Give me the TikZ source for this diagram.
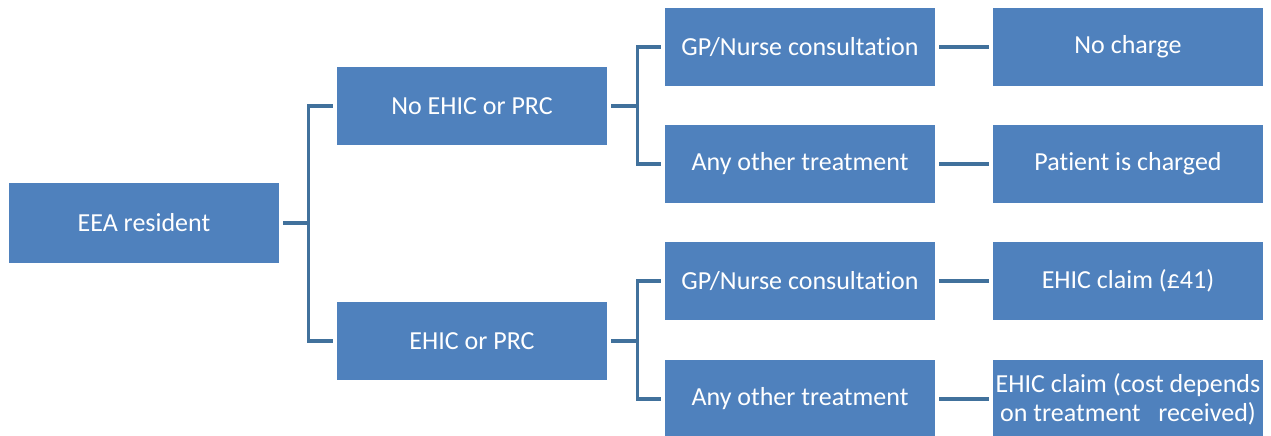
\documentclass[tikz,border=0pt]{standalone}
\usepackage{fontspec}
\setmainfont[Ligatures=NoCommon]{Carlito}
\definecolor{boxblue}{HTML}{4F81BD}
\definecolor{linkblue}{HTML}{41719C}
\begin{document}
\begin{tikzpicture}[x=1pt,y=-1pt,
  box/.style={rectangle, fill=boxblue, text=white, minimum width=270pt, minimum height=78pt, inner sep=0pt, align=center, font=\fontsize{26}{29}\selectfont},
  link/.style={draw=linkblue, line width=3.3pt, shorten <=4pt, shorten >=4pt}]
\useasboundingbox (0,0) rectangle (1271,436);
\node[box, minimum height=80pt] (eea) at (144,223){EEA resident};
\node[box] (noehic) at (472,106){No EHIC or PRC};
\node[box] (ehic) at (472,341){EHIC or PRC};
\node[box] (gp1) at (800,47){GP/Nurse consultation};
\node[box] (oth1) at (800,164){Any other treatment};
\node[box] (gp2) at (800,281){GP/Nurse consultation};
\node[box] (oth2) at (800,399){Any other treatment};
\node[box] (nocharge) at (1128,47){No charge};
\node[box] (charged) at (1128,164){Patient is charged};
\node[box] (claim1) at (1128,281){EHIC claim (£41)};
\node[box] (claim2) at (1128,399){EHIC claim (cost depends\\on treatment~~ received)};
\draw[link](eea.east) -- ++(29,0) |- (noehic.west);
\draw[link](eea.east) -- ++(29,0) |- (ehic.west);
\draw[link](noehic.east) -- ++(30,0) |- (gp1.west);
\draw[link](noehic.east) -- ++(30,0) |- (oth1.west);
\draw[link](ehic.east) -- ++(30,0) |- (gp2.west);
\draw[link](ehic.east) -- ++(30,0) |- (oth2.west);
\draw[link](gp1) -- (nocharge);
\draw[link](oth1) -- (charged);
\draw[link](gp2) -- (claim1);
\draw[link](oth2) -- (claim2);
\end{tikzpicture}
\end{document}
